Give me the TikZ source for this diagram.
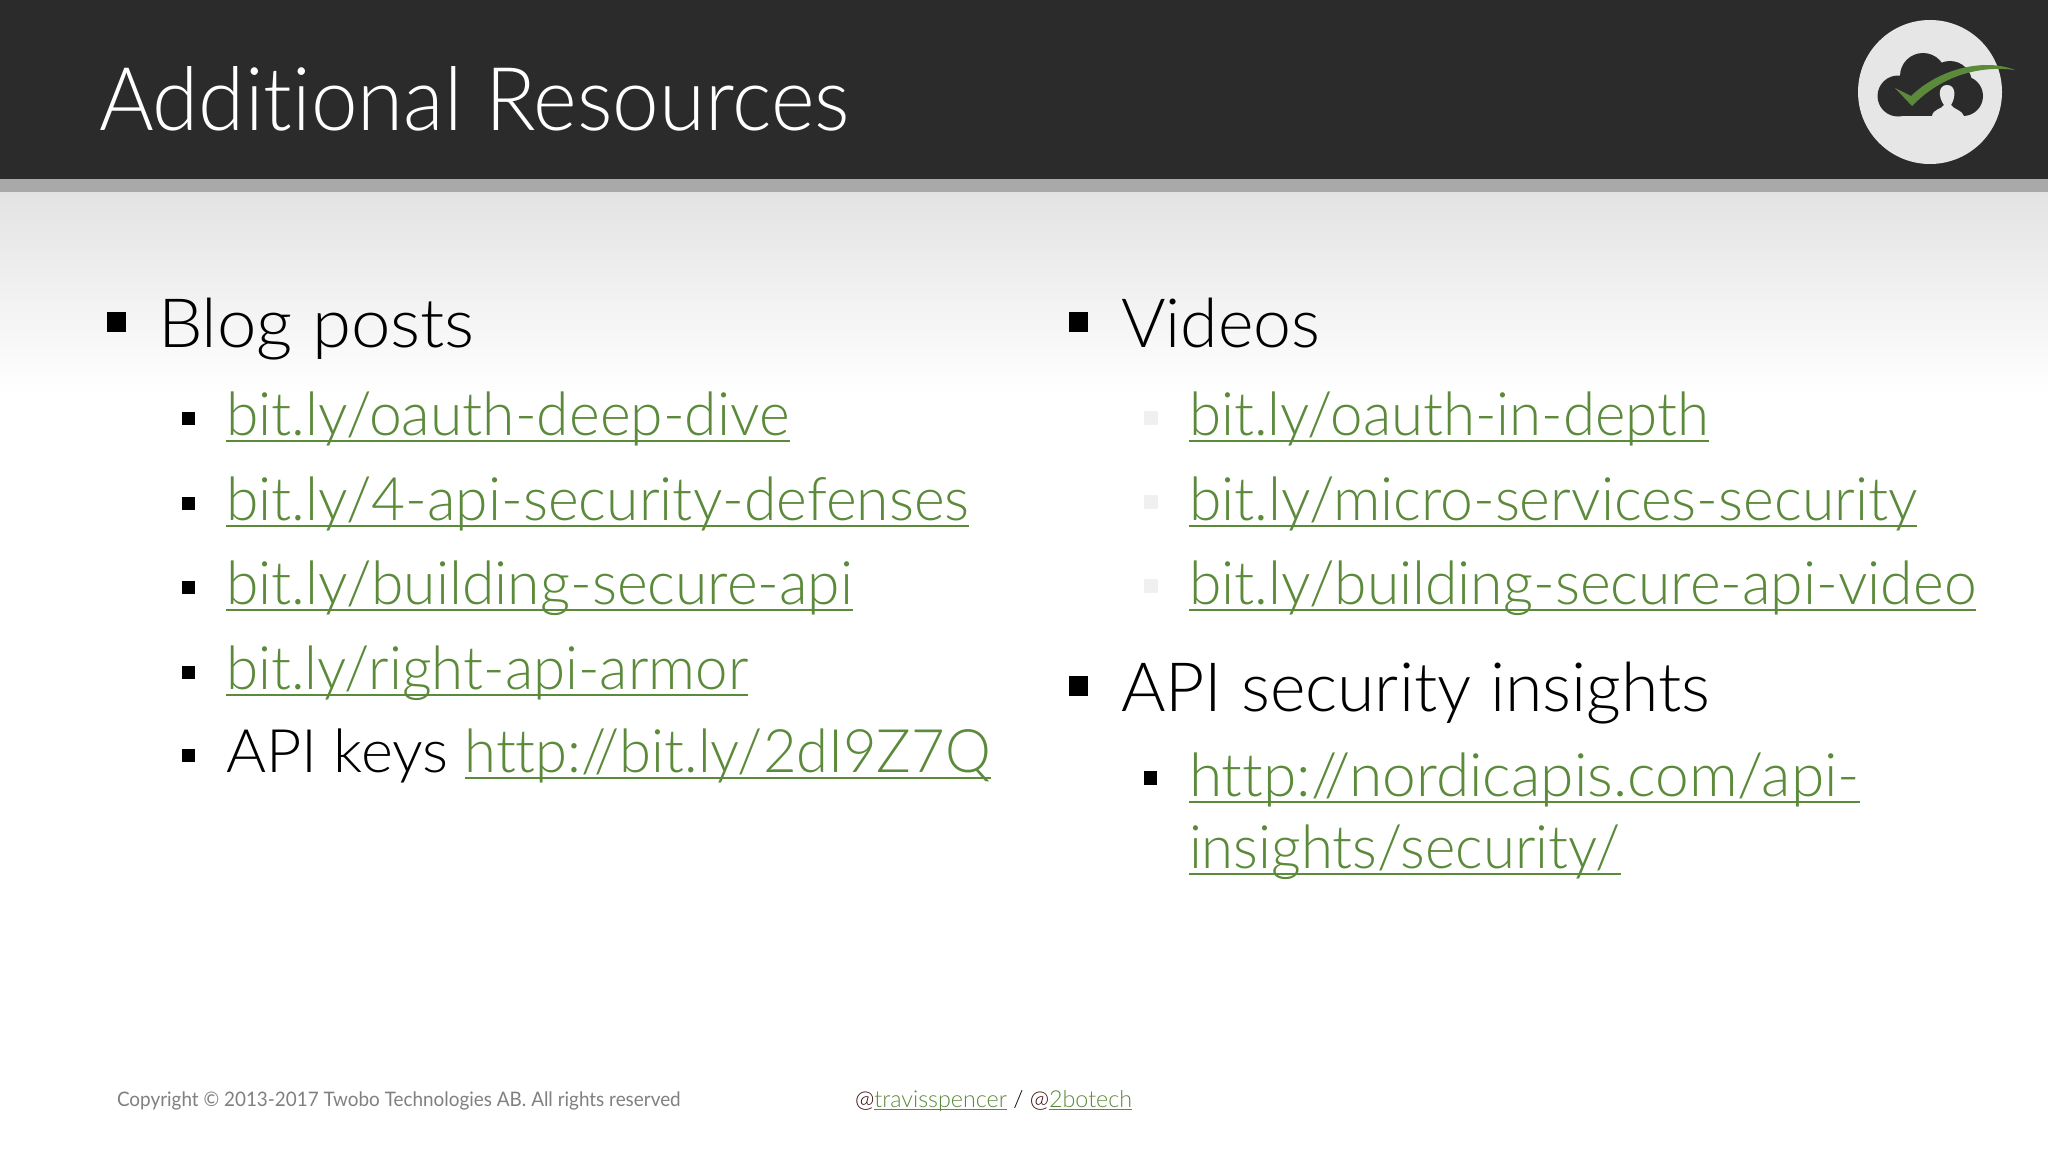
\documentclass[tikz,border=0pt]{standalone}
\usepackage{fontspec}
\setmainfont{Lato Light}[Ligatures=NoCommon]
\newfontfamily\titlefont{Lato Light}[Ligatures=NoCommon,FakeStretch=0.95]
\newfontfamily\itemfont{Lato Light}[Ligatures=NoCommon,FakeStretch=0.98]
\newfontfamily\copyfont{Lato}[Ligatures=NoCommon,FakeStretch=0.945]
\definecolor{hdr}{HTML}{2B2B2B}
\definecolor{band}{HTML}{A9A9AA}
\definecolor{lnk}{HTML}{5B8A3A}
\definecolor{ghost}{HTML}{F1F0F1}
\definecolor{logobg}{HTML}{E6E6E7}
\newcommand\ulnk[1]{\setbox0=\hbox{#1}\rlap{\rule[-0.12em]{\wd0}{0.04em}}\box0}
\newcommand\lk[1]{\textcolor{lnk}{\ulnk{#1}}}
\newcommand\sx[2]{\scalebox{#1}[1]{#2}}
\tikzset{
 x=1pt,y=-1pt,
 txt/.style={anchor=base west,inner sep=0pt,outer sep=0pt,text=black},
 head/.style={txt,font=\fontsize{68}{70}\selectfont},
 item/.style={txt,font=\itemfont\fontsize{60}{64}\selectfont},
 foot/.style={txt,font=\fontsize{23.3}{26}\selectfont},
 bigb/.style={fill=black,draw=none},
 smallb/.style={fill=black,draw=none},
 ghostb/.style={fill=ghost,draw=none}
}
\begin{document}
\begin{tikzpicture}
\useasboundingbox (0,0) rectangle (2048,1152);
\fill[white] (0,0) rectangle (2048,1152);
\fill[top color=black!11,bottom color=white,draw=none] (0,192) rectangle (2048,395);
\fill[hdr] (0,0) rectangle (2048,179);
\fill[band] (0,179) rectangle (2048,192);
\node[txt,font=\titlefont\fontsize{88}{92}\selectfont,text=white] (title) at (99,130) {Additional Resources};
% logo
\fill[logobg] (1930,92) circle (72);
\fill[hdr] (1898,96) circle (20.5) (1923,76) circle (23) (1950,83) circle (22) (1963,96) circle (20);
\fill[hdr] (1898,90) rectangle (1963,116);
\fill[logobg] (1932,116) .. controls (1933,109) and (1942,109) .. (1944,105)
  .. controls (1938,97) and (1938,85) .. (1947,85)
  .. controls (1956,85) and (1956,97) .. (1951,105)
  .. controls (1953,109) and (1962,110) .. (1964,116) -- cycle;
\fill[lnk] (1895,88) -- (1911,96) .. controls (1940,68) and (1985,58) .. (2015,70)
  .. controls (1985,66) and (1945,72) .. (1912,106) -- cycle;
% left
\fill[bigb] (107,312) rectangle (126,332);
\node[head] (blog) at (158,347) {\sx{1.04}{Blog posts}};
\foreach \y in {412,497,581,666,749}{\fill[smallb] (182,\y) rectangle (195,\y+13);}
\node[item] (l1) at (226,435) {\lk{bit.ly/oauth-deep-dive}};
\node[item] (l2) at (226,520) {\lk{bit.ly/4-api-security-defenses}};
\node[item] (l3) at (226,604) {\lk{bit.ly/building-secure-api}};
\node[item] (l4) at (226,689) {\sx{0.99}{\lk{bit.ly/right-api-armor}}};
\node[item] (l5) at (226,772) {\sx{1.04}{API keys} \sx{0.985}{\lk{http://bit.ly/2dI9Z7Q}}};
% right
\fill[bigb] (1069,312) rectangle (1088,332);
\node[head] (vid) at (1121,347) {Videos};
\foreach \y in {411,495,579}{\fill[ghostb] (1144,\y) rectangle (1158,\y+14);}
\node[item] (r1) at (1189,435) {\sx{0.99}{\lk{bit.ly/oauth-in-depth}}};
\node[item] (r2) at (1189,520) {\lk{bit.ly/micro-services-security}};
\node[item] (r3) at (1189,604) {\lk{bit.ly/building-secure-api-video}};
\fill[bigb] (1069,676) rectangle (1088,696);
\node[head] (api) at (1121,711) {API security insights};
\fill[smallb] (1144,771) rectangle (1157,785);
\node[item] (r4) at (1189,796) {\sx{1.028}{\lk{http://nordicapis.com/api-}}};
\node[item] (r5) at (1189,868) {\sx{0.988}{\lk{insights/security/}}};
% footer
\node[txt,font=\copyfont\fontsize{20}{24}\selectfont,text=black!50] (copy) at (117,1106) {Copyright © 2013-2017 Twobo Technologies AB. All rights reserved};
\node[foot] (tw) at (855,1107) {\textcolor{black!80!red}{@}\lk{travisspencer} / \textcolor{black!80!red}{@}\lk{2botech}};
\end{tikzpicture}
\end{document}
